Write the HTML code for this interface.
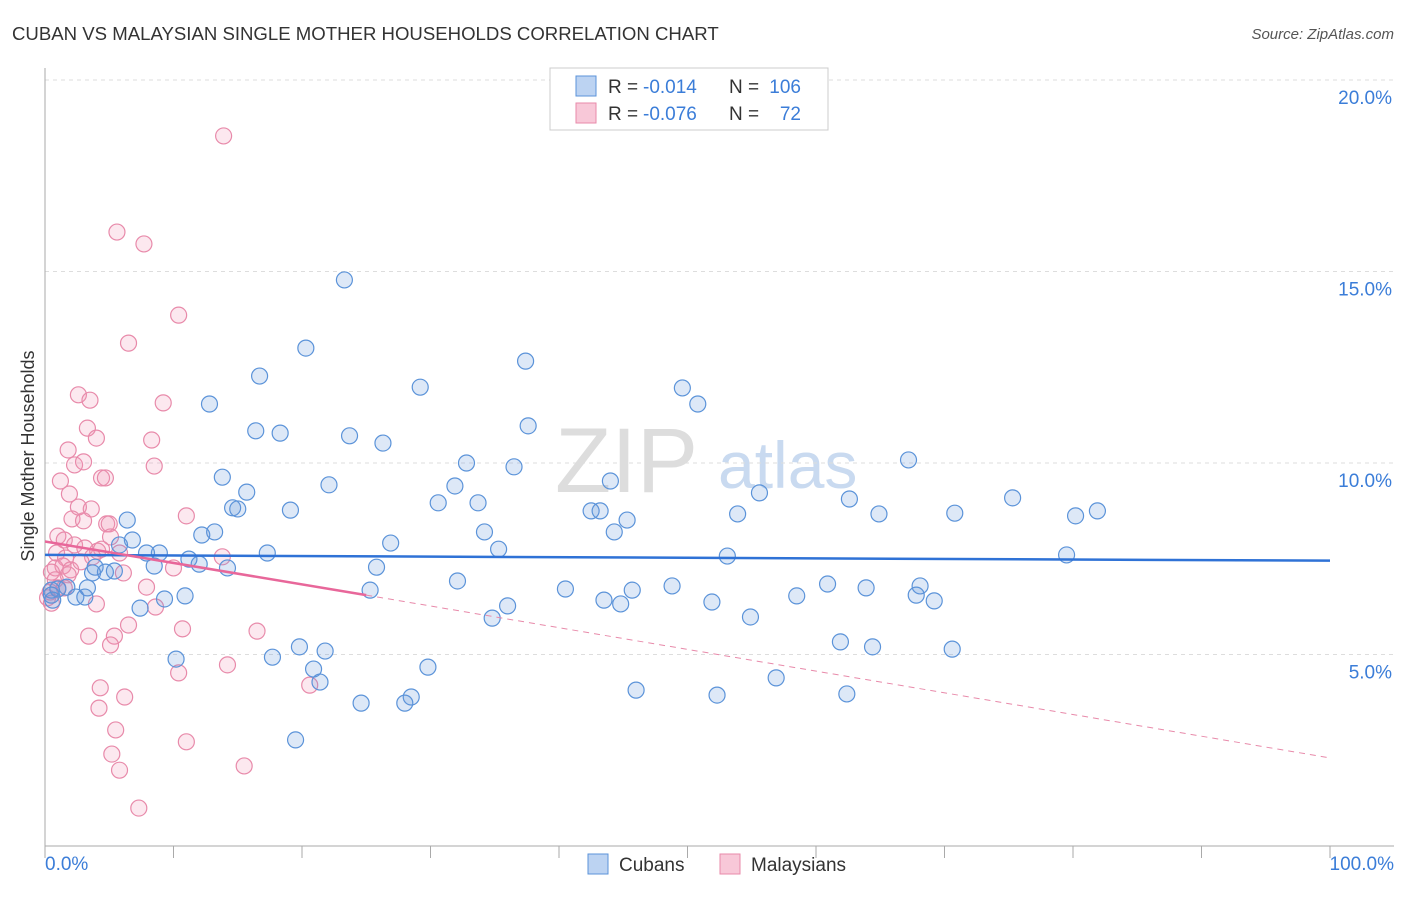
<!DOCTYPE html>
<html><head><meta charset="utf-8"><style>
body{margin:0;background:#fff;font-family:"Liberation Sans",sans-serif}
svg text{font-family:"Liberation Sans",sans-serif}
</style></head><body>
<svg id="chart" width="1406" height="892" xmlns="http://www.w3.org/2000/svg">
<text x="12" y="40" font-size="18.6" fill="#333">CUBAN VS MALAYSIAN SINGLE MOTHER HOUSEHOLDS CORRELATION CHART</text>
<text x="1394" y="39" font-size="15" fill="#555" text-anchor="end" font-style="italic">Source: ZipAtlas.com</text>
<text x="555" y="492" font-size="92" fill="#ddd" font-family="Liberation Serif">ZIP</text>
<text x="718" y="488" font-size="66" fill="#c9daf0">atlas</text>
<g id="grid"></g><g id="axes"></g><g id="marks"></g>
<text transform="translate(34,456) rotate(-90)" font-size="18" fill="#333" text-anchor="middle">Single Mother Households</text>
<g>
<rect x="550" y="68" width="278" height="62" fill="#fff" stroke="#ccc"/>
<rect x="576" y="76" width="20" height="20" fill="#bcd3f2" stroke="#5b93d9"/>
<rect x="576" y="103" width="20" height="20" fill="#f8c8d8" stroke="#e88aaa"/>
<text x="608" y="93" font-size="19" fill="#333">R =</text>
<text x="643" y="93" font-size="19" fill="#3b7dd8">-0.014</text>
<text x="729" y="93" font-size="19" fill="#333">N =</text>
<text x="801" y="93" font-size="19" fill="#3b7dd8" text-anchor="end">106</text>
<text x="608" y="120" font-size="19" fill="#333">R =</text>
<text x="643" y="120" font-size="19" fill="#3b7dd8">-0.076</text>
<text x="729" y="120" font-size="19" fill="#333">N =</text>
<text x="801" y="120" font-size="19" fill="#3b7dd8" text-anchor="end">72</text>
</g>
<g>
<rect x="588" y="854" width="20" height="20" fill="#bcd3f2" stroke="#5b93d9"/>
<text x="619" y="871" font-size="19" fill="#333">Cubans</text>
<rect x="720" y="854" width="20" height="20" fill="#f8c8d8" stroke="#e88aaa"/>
<text x="751" y="871" font-size="19" fill="#333">Malaysians</text>
</g>
</svg>
<script>
const yTicks=[5,10,15,20];
const yTickLabels=["5.0%","10.0%","15.0%","20.0%"];
const xTickLabels=["0.0%","100.0%"];
const cubanX=[23.3,20.3,37.4,16.7,49.6,29.2,12.8,50.8,16.4,18.3,23.7,26.3,37.6,67.2,32.8,36.5,13.8,22.1,31.9,15.7,44.0,55.6,75.3,30.6,33.7,62.6,14.6,15.0,19.1,42.5,43.2,53.9,64.9,70.8,81.9,80.2,45.3,6.4,34.2,44.3,13.2,12.2,26.9,6.8,5.8,8.9,7.9,35.3,53.1,79.5,17.3,11.2,12.0,8.5,14.2,25.8,3.9,5.4,4.7,3.7,1.7,1.0,0.5,0.5,2.4,3.3,0.6,3.1,25.3,32.1,40.5,48.8,60.9,63.9,68.1,45.7,43.5,44.8,58.5,67.8,69.2,51.9,9.3,10.9,7.4,36.0,34.8,54.9,61.9,64.4,70.6,19.8,21.8,17.7,10.2,20.9,29.8,21.4,56.9,46.0,52.3,62.4,28.5,24.6,28.0,19.5];
const cubanY=[14.78,13.0,12.66,12.27,11.96,11.98,11.54,11.54,10.84,10.78,10.71,10.52,10.97,10.08,10.0,9.9,9.63,9.43,9.4,9.24,9.53,9.22,9.09,8.96,8.96,9.06,8.83,8.8,8.77,8.75,8.75,8.67,8.67,8.69,8.75,8.62,8.51,8.51,8.2,8.2,8.2,8.12,7.91,7.99,7.86,7.65,7.65,7.75,7.57,7.6,7.65,7.49,7.36,7.31,7.26,7.28,7.28,7.18,7.15,7.13,6.76,6.71,6.68,6.55,6.5,6.74,6.42,6.5,6.68,6.92,6.71,6.79,6.84,6.74,6.79,6.68,6.42,6.32,6.53,6.55,6.4,6.37,6.45,6.53,6.21,6.27,5.95,5.98,5.33,5.2,5.14,5.2,5.09,4.93,4.88,4.62,4.67,4.28,4.39,4.07,3.94,3.97,3.89,3.73,3.73,2.77];
const malayX=[13.9,5.6,7.7,10.4,6.5,2.6,3.5,9.2,3.3,4.0,8.3,1.8,2.3,3.0,8.5,4.4,4.7,1.2,1.9,11.0,2.6,3.6,2.1,3.0,4.8,5.0,1.0,1.5,5.1,2.3,3.1,4.1,4.4,5.8,13.8,0.9,1.6,3.7,0.8,1.4,2.0,2.8,1.8,6.1,10.0,0.5,0.8,1.0,0.4,0.2,0.5,7.9,4.0,8.6,1.5,10.7,6.5,3.4,5.4,5.1,16.5,14.2,10.4,20.6,4.3,6.2,4.2,5.5,5.2,11.0,5.8,15.5,7.3];
const malayY=[18.54,16.03,15.72,13.86,13.13,11.78,11.64,11.57,10.91,10.65,10.6,10.34,9.95,10.03,9.92,9.61,9.61,9.53,9.19,8.62,8.85,8.8,8.54,8.49,8.41,8.41,8.09,7.99,8.07,7.86,7.78,7.7,7.75,7.65,7.55,7.65,7.52,7.55,7.26,7.31,7.21,7.42,7.08,7.13,7.26,7.15,6.95,6.74,6.63,6.48,6.34,6.76,6.32,6.24,6.74,5.67,5.77,5.48,5.48,5.25,5.61,4.73,4.52,4.2,4.13,3.89,3.6,3.03,2.4,2.72,1.98,2.09,0.99];
const cubanTrend=[7.6,7.45];
const malayTrend=[7.95,6.55,2.3];
const malayTrendSolidEnd=25;

const X0=45,X1=1330,Y0=846,PPU=38.3;
const sx=v=>X0+(X1-X0)*v/100, sy=v=>Y0-v*PPU;
const NS="http://www.w3.org/2000/svg";
function mk(t,a,p){const e=document.createElementNS(NS,t);for(const k in a)e.setAttribute(k,a[k]);p.appendChild(e);return e;}
const grid=document.getElementById('grid'),axes=document.getElementById('axes'),marks=document.getElementById('marks');
yTicks.forEach((v,i)=>{
 const l=mk('line',{x1:X0,x2:1394,y1:sy(v),y2:sy(v),stroke:'#ddd','stroke-dasharray':'4,4'},grid);
 
 
 const t=mk('text',{x:1392,y:sy(v)+24,'font-size':19,fill:'#3b7dd8','text-anchor':'end'},axes);
 t.textContent=yTickLabels[i];
 
 
});
mk('line',{x1:X0,x2:X0,y1:68,y2:Y0,stroke:'#aaa'},axes);
mk('line',{x1:X0,x2:1394,y1:Y0,y2:Y0,stroke:'#aaa'},axes);
for(let i=0;i<=10;i++){const x=sx(i*10);const l=mk('line',{x1:x,x2:x,y1:Y0,y2:Y0+12,stroke:'#aaa'},axes);
 
 }
[[0,'start'],[100,'end']].forEach((p,i)=>{const t=mk('text',{x:i?1394:45,y:870,'font-size':19,fill:'#3b7dd8','text-anchor':p[1]},axes);t.textContent=xTickLabels[i];
 
 });
function pts(xs,ys,fill,stroke,name){xs.forEach((x,i)=>{const c=mk('circle',{cx:sx(x),cy:sy(ys[i]),r:8,fill:fill,stroke:stroke,'stroke-width':1.2},marks);
 
 });}
pts(malayX,malayY,'rgba(240,150,180,0.22)','#e88aaa','malaysian-point');
pts(cubanX,cubanY,'rgba(100,150,220,0.22)','#5b93d9','cuban-point');
const bl=mk('line',{x1:sx(0),x2:sx(100),y1:sy(cubanTrend[0]),y2:sy(cubanTrend[1]),stroke:'#2f72d6','stroke-width':2.5},marks);


const pd=mk('line',{x1:sx(malayTrendSolidEnd),x2:sx(100),y1:sy(malayTrend[1]),y2:sy(malayTrend[2]),stroke:'#e88aaa','stroke-width':1,'stroke-dasharray':'6,5'},marks);


const ps=mk('line',{x1:sx(0),x2:sx(malayTrendSolidEnd),y1:sy(malayTrend[0]),y2:sy(malayTrend[1]),stroke:'#e8679a','stroke-width':2.5},marks);


</script>
</body></html>
